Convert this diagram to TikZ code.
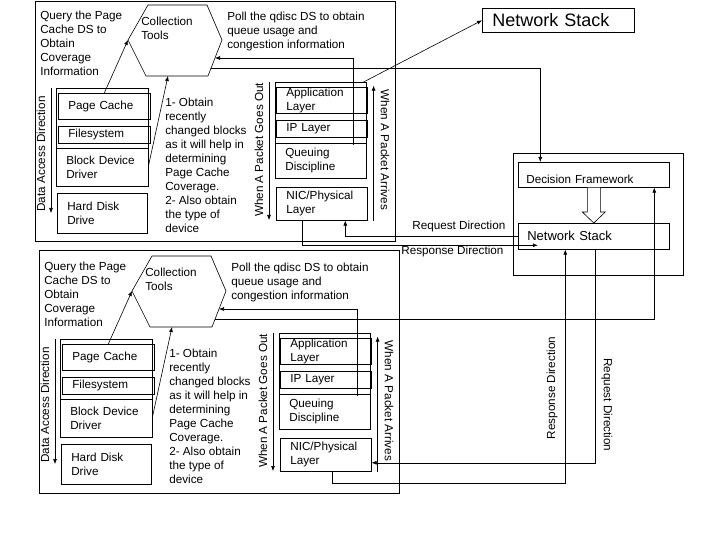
\documentclass[tikz,border=0pt]{standalone}
\usepackage{fontspec}
\setmainfont{Liberation Sans}
\usetikzlibrary{arrows.meta}

\tikzset{
  every node/.style={font=\fontsize{11.7}{14}\selectfont, inner sep=0pt},
  txt/.style={anchor=north west, align=left},
  blk/.style={draw, anchor=north west},
  layer/.style={draw, anchor=north west, align=left, text width=#1, inner xsep=10pt},
}

\begin{document}
\begin{tikzpicture}[x=1pt, y=-1pt, semithick, >={Latex[length=5pt,width=4pt]}]
\useasboundingbox (0,0) rectangle (720,540);

% Host blocks (top and bottom)
\foreach \p/\dx/\dy/\fy/\fh in {t/0/0/1/240, b/4/251/-1/243} {
\begin{scope}[shift={(\dx,\dy)}, name prefix=\p-]
\node[blk, minimum width=360, minimum height=\fh] (frame) at (35,\fy) {};
\node[txt] (query) at (40,10.7) {Query the Page\\Cache DS to\\Obtain\\Coverage\\Information};
\node[txt] (poll) at (227,11.7) {Poll the qdisc DS to obtain\\queue usage and\\congestion information};

% Collection tools
\draw (128,40) coordinate (hw) -- (148,5) -- (207,5) -- (222,40) -- (208,76) -- (146,76) -- cycle;
\node[txt] (ct) at (141,16.7) {Collection\\Tools};
\coordinate (hb) at (168,76);
\coordinate (hp) at (215,58);
\coordinate (ho) at (211,68);

% Storage stack
\node[blk, minimum width=92, minimum height=98] (dstack) at (56,88) {};
\node[layer=72, minimum height=26] (pc) at (58,93) {Page Cache};
\node[layer=72, minimum height=17] (fs) at (58,126) {Filesystem};
\node[layer=72, minimum height=38] (bdd) at (56,148) {Block Device\\Driver};
\node[layer=70, minimum height=40] (hdd) at (57,193) {Hard Disk\\Drive};
\node[rotate=90] (dad) at (41,154) {Data Access Direction};
\draw[->] ([xshift=-5pt]dstack.north west) -- ++(0,125);
\node[txt] (note) at (165,97.7) {1- Obtain\\recently\\changed blocks\\as it will help in\\determining\\Page Cache\\Coverage.\\2- Also obtain\\the type of\\device};

% Network stack
\node[blk, minimum width=91, minimum height=96] (nstack) at (275,82) {};
\node[layer=71, minimum height=26] (app) at (276,87) {Application\\Layer};
\node[layer=71, minimum height=17] (ip) at (276,120) {IP Layer};
\node[layer=71, minimum height=35] (qd) at (275,143) {Queuing\\Discipline};
\node[layer=71, minimum height=33] (nic) at (276,187) {NIC/Physical\\Layer};
\node[rotate=90] (out) at (259,150) {When A Packet Goes Out};
\draw[->] ([xshift=-6pt]nstack.north west) -- ++(0,138);
\node[rotate=-90] (arr) at (385,150) {When A Packet Arrives};
\draw[->] ([xshift=6pt]nic.south east) -- ++(0,-135);

% Links to collection tools
\draw[->] (pc.north) -- (hw);
\draw[->] ([yshift=2pt]bdd.east) -- (hb);
\draw[->] ([xshift=32pt,yshift=-2pt]qd.north) |- (hp);
\end{scope}
}

% Remote side
\node[draw, anchor=north west, text width=132, inner xsep=10pt, minimum height=24,
  align=left, font=\fontsize{18}{20}\selectfont] (nstop) at (482,8) {Network Stack};
\node[blk, minimum width=170, minimum height=122] (dfbox) at (513,153) {};
\node[layer=135, inner xsep=8pt, minimum height=25, text height=17.3pt, text depth=0pt] (df) at (518,162) {Decision Framework};
\node[layer=133, inner xsep=9pt, minimum height=26, font=\fontsize{13}{15}\selectfont] (nsin) at (518,223) {Network Stack};
\draw[fill=white] ([xshift=-6.5pt]df.south) -- ([xshift=-6.5pt,yshift=11pt]nsin.north)
  -- ([xshift=-11.5pt,yshift=11pt]nsin.north) -- (nsin.north)
  -- ([xshift=11.5pt,yshift=11pt]nsin.north) -- ([xshift=6.5pt,yshift=11pt]nsin.north)
  -- ([xshift=6.5pt]df.south);

% Top block links
\draw[->] (t-ho) -| ([xshift=-53.5pt]df.north);
\draw[->] ([xshift=-3pt]t-nstack.north east) -- (nstop.west);
\draw[->] ([xshift=-19.5pt]t-nic.south) |- ([xshift=-56pt,yshift=-9pt]nsin.center);
\draw[->] (nsin.west) -| ([xshift=23.5pt]t-nic.south);
\node[anchor=west] (req) at (412,226) {Request Direction};
\node[anchor=west] (resp) at (401,251) {Response Direction};

% Bottom block links
\draw[->] (b-ho) -| ([xshift=60.5pt]df.south);
\draw[->] ([xshift=1.5pt]nsin.south) |- ([yshift=-8pt]b-nic.east);
\draw[->] ([xshift=6.5pt]b-nic.south) -- ++(0,12) -| ([xshift=-28.5pt]nsin.south);
\node[rotate=90] (resp2) at (552,388) {Response Direction};
\node[rotate=-90] (req2) at (607,405) {Request Direction};

\end{tikzpicture}
\end{document}
